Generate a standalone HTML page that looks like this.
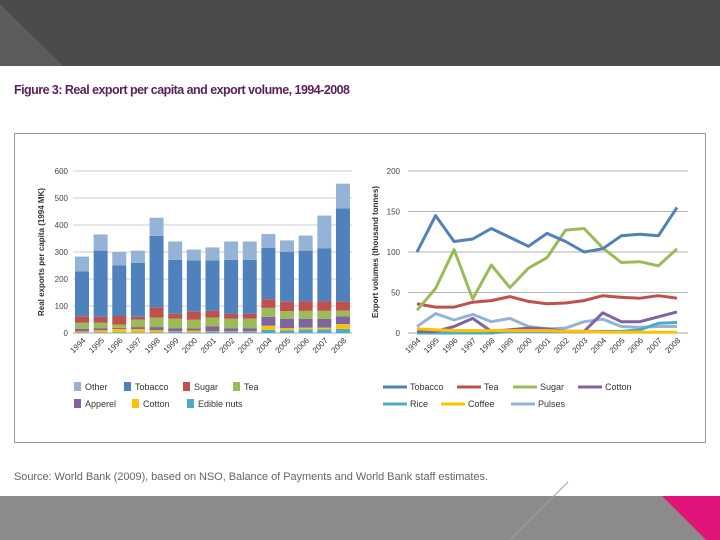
<!DOCTYPE html>
<html><head><meta charset="utf-8"><style>
body{margin:0;width:720px;height:540px;overflow:hidden;background:#fff;font-family:"Liberation Sans",sans-serif}
svg{display:block}
</style></head><body>
<svg width="720" height="540">
<rect x="0" y="0" width="720" height="66" fill="#4b4b4b"/>
<polygon points="0,4 0,66 63,66" fill="#5c5c5c"/>
<text x="14" y="94" font-size="12.5" font-weight="bold" fill="#5b1f5e" textLength="336">Figure 3: Real export per capita and export volume, 1994-2008</text>
<rect x="14.5" y="133.5" width="691" height="309" fill="none" stroke="#999"/>
<g id="left"></g>
<g id="right"></g>
<text x="14" y="480" font-size="11" fill="#666" textLength="474">Source: World Bank (2009), based on NSO, Balance of Payments and World Bank staff estimates.</text>
<rect x="0" y="496" width="720" height="44" fill="#8c8c8c"/>
<line x1="510" y1="540" x2="568" y2="482" stroke="#a0a0a0"/>
<polygon points="662,496 720,496 720,540 706,540" fill="#e0157a"/>
</svg>
<script>
const years=["1994","1995","1996","1997","1998","1999","2000","2001","2002","2003","2004","2005","2006","2007","2008"];
const barNames=["Edible nuts","Cotton","Apperel","Tea","Sugar","Tobacco","Other"];
const barColors=["#4bacc6","#ffc000","#8064a2","#9bbb59","#c0504d","#4f81bd","#95b3d7"];
const nuts=[2,2,3,2,2,4,3,4,4,4,12,10,14,14,15];
const cottonBar=[4,8,12,12,8,2,6,2,2,2,15,8,6,6,18];
const apparel=[10,8,4,8,12,12,8,18,12,12,33,35,32,32,28];
const teaBar=[22,20,12,28,35,35,32,33,35,35,33,28,30,30,22];
const sugarBar=[24,22,32,10,38,18,30,25,18,18,32,35,35,35,33];
const tobaccoBar=[166,245,187,200,265,200,190,187,200,200,190,185,188,196,345];
const otherBar=[55,60,50,45,67,68,40,48,68,68,52,42,56,122,92];
const barTicks=[0,100,200,300,400,500,600];

const lineNames=["Tobacco","Tea","Sugar","Cotton","Rice","Coffee","Pulses"];
const lineColors=["#4f81bd","#c0504d","#9bbb59","#8064a2","#4bacc6","#ffc000","#95b3d7"];
const tobaccoVol=[100,145,113,116,129,118,107,123,113,100,104,120,122,120,155];
const teaVol=[36,32,32,38,40,45,39,36,37,40,46,44,43,46,43];
const sugarVol=[28,55,103,42,84,56,80,93,127,129,105,87,88,83,104];
const cottonVol=[2,2,8,18,2,4,6,5,2,2,25,14,14,20,26];
const riceVol=[0,0,0,0,0,2,2,2,2,2,2,2,4,12,13];
const coffeeVol=[5,4,3,3,3,3,3,3,2,2,1,1,1,1,1];
const pulsesVol=[8,24,16,23,14,18,8,5,6,14,17,8,7,8,8];
const lineTicks=[0,50,100,150,200];

const NS="http://www.w3.org/2000/svg";
function mk(p,t,a){const e=document.createElementNS(NS,t);for(const k in a)e.setAttribute(k,a[k]);p.appendChild(e);return e;}

const L=document.getElementById('left');
const ly=v=>333-v*162/600;
const lx=i=>82+i*18.64;
barTicks.forEach(t=>{
 const g=mk(L,'line',{x1:73,x2:352,y1:ly(t),y2:ly(t),stroke:t===0?'#888':'#bbb','stroke-width':0.8});
 
 
 const tx=mk(L,'text',{x:68,y:ly(t)+3,'font-size':8,fill:'#444','text-anchor':'end'});tx.textContent=t;
 
 
});
const stacks=[nuts,cottonBar,apparel,teaBar,sugarBar,tobaccoBar,otherBar];
years.forEach((y,i)=>{
 let c=0;
 stacks.forEach((s,k)=>{
  const r=mk(L,'rect',{x:lx(i)-7,width:14,y:ly(c+s[i]),height:ly(c)-ly(c+s[i]),fill:barColors[k]});
  
  
  c+=s[i];
 });
 const t=mk(L,'text',{x:lx(i)+4,y:341,'font-size':8,fill:'#333','text-anchor':'end',transform:`rotate(-45 ${lx(i)+4} 341)`});t.textContent=y;
 
 
});
const lt=mk(L,'text',{x:44,y:252,'font-size':8,'font-weight':'bold',fill:'#333','text-anchor':'middle',transform:'rotate(-90 44 252)'});lt.textContent='Real exports per capita (1994 MK)';



const R=document.getElementById('right');
const ry=v=>333-v*162/200;
const rx=i=>417+i*18.57;
lineTicks.forEach(t=>{
 const g=mk(R,'line',{x1:408,x2:688,y1:ry(t),y2:ry(t),stroke:t===0?'#888':'#999','stroke-width':0.8});
 
 
 const tx=mk(R,'text',{x:400,y:ry(t)+3,'font-size':8,fill:'#444','text-anchor':'end'});tx.textContent=t;
 
 
});
const series=[tobaccoVol,teaVol,sugarVol,cottonVol,riceVol,coffeeVol,pulsesVol];
[6,4,3,5,1,2,0].forEach(k=>{
 const d=series[k].map((v,i)=>(i?'L':'M')+rx(i).toFixed(1)+','+ry(v).toFixed(1)).join('');
 const p=mk(R,'path',{d:d,fill:'none',stroke:lineColors[k],'stroke-width':3,'stroke-linejoin':'round'});
 
 
});
years.forEach((y,i)=>{
 const t=mk(R,'text',{x:rx(i)+4,y:341,'font-size':8,fill:'#333','text-anchor':'end',transform:`rotate(-45 ${rx(i)+4} 341)`});t.textContent=y;
 
 
});
const rt=mk(R,'text',{x:378,y:252,'font-size':8,'font-weight':'bold',fill:'#333','text-anchor':'middle',transform:'rotate(-90 378 252)'});rt.textContent='Export volumes (thousand tonnes)';



const leftLeg=[["Other",6,74,387],["Tobacco",5,124,387],["Sugar",4,183,387],["Tea",3,233,387],["Apperel",2,74,404],["Cotton",1,132,404],["Edible nuts",0,187,404]];
leftLeg.forEach(([n,k,x,y])=>{
 const s=mk(L,'rect',{x:x,y:y-5,width:7,height:9,fill:barColors[k]});
 
 
 const t=mk(L,'text',{x:x+11,y:y+3,'font-size':9,fill:'#333'});t.textContent=n;
 
 
});
const rightLeg=[["Tobacco",0,383,387],["Tea",1,457,387],["Sugar",2,513,387],["Cotton",3,578,387],["Rice",4,383,404],["Coffee",5,441,404],["Pulses",6,511,404]];
rightLeg.forEach(([n,k,x,y])=>{
 const s=mk(R,'line',{x1:x,x2:x+24,y1:y,y2:y,stroke:lineColors[k],'stroke-width':3});
 
 
 const t=mk(R,'text',{x:x+27,y:y+3,'font-size':9,fill:'#333'});t.textContent=n;
 
 
});
</script>
</body></html>
